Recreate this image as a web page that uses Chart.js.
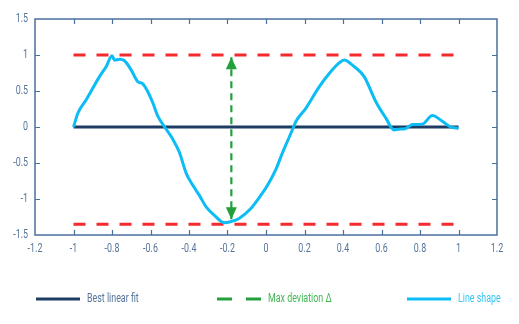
<!DOCTYPE html>
<html>
<head>
<meta charset="utf-8">
<script src="https://cdn.jsdelivr.net/npm/chart.js@4/dist/chart.umd.min.js"></script>
<style>
  html, body { margin: 0; padding: 0; background: #fff; }
  canvas { display: block; }
</style>
</head>
<body>
<canvas id="deviation-chart" width="519" height="324"></canvas>
<script>
const shapeX = [-1, -0.977, -0.934, -0.865, -0.83, -0.8, -0.787, -0.761, -0.735, -0.7, -0.666, -0.64, -0.614,
    -0.587, -0.562, -0.524, -0.484, -0.45, -0.415, -0.38, -0.346, -0.311, -0.259, -0.216, -0.19, -0.14, -0.08,
    -0.035, 0.008, 0.052, 0.086, 0.116, 0.143, 0.156, 0.207, 0.277, 0.337, 0.38, 0.406, 0.449, 0.51, 0.57,
    0.622, 0.665, 0.69, 0.723, 0.76, 0.812, 0.864, 0.916, 0.959, 1];
const shapeY = [0, 0.195, 0.378, 0.7, 0.84, 0.99, 0.93, 0.94, 0.92, 0.79, 0.63, 0.6, 0.49,
    0.33, 0.15, -0.01, -0.17, -0.35, -0.64, -0.81, -0.95, -1.11, -1.25, -1.33, -1.32, -1.27, -1.135,
    -0.98, -0.81, -0.585, -0.355, -0.17, 0, 0.08, 0.26, 0.56, 0.77, 0.89, 0.93, 0.86, 0.7, 0.355,
    0.126, -0.04, -0.03, -0.025, 0.034, 0.04, 0.16, 0.08, 0, -0.02];

const fitX = [-1, 1];
const fitY = [0, 0];

const boundX = [-1, 1];
const upperY = [1, 1];
const lowerY = [-1.35, -1.35];

// vertical arrow between the two bounds
const deviationX = [-0.18, -0.18];
const deviationY = [0.97, -1.28];

const xTicks = { min: -1.2, max: 1.2, step: 0.2 };
const yTicks = { min: -1.5, max: 1.5, step: 0.5 };

const axisColor = '#4a6f9c';
const tickColor = '#55749a';
const fontFamily = 'Roboto, "DejaVu Sans Condensed", sans-serif';
const squeeze = 0.74;   // narrow the lettering horizontally

const toPoints = (xs, ys) => xs.map((x, i) => ({ x: x, y: ys[i] }));
const fmt = v => String(parseFloat(v.toFixed(2)));

function narrowText(ctx, text, x, y) {
    ctx.save();
    ctx.translate(x, y);
    ctx.scale(squeeze, 1);
    ctx.fillText(text, 0, 0);
    ctx.restore();
}

// box around the plot with inward ticks on all four sides
const framePlugin = {
    id: 'frame',
    beforeDatasetsDraw(chart) {
        const { ctx, chartArea: a, scales: { x, y } } = chart;
        const len = 5;
        ctx.save();
        ctx.strokeStyle = axisColor;
        ctx.lineWidth = 1.5;
        ctx.strokeRect(a.left, a.top, a.width, a.height);
        ctx.lineWidth = 1.2;
        ctx.beginPath();
        x.ticks.forEach(t => {
            if (t.value <= x.min + 1e-9 || t.value >= x.max - 1e-9) return;
            const px = Math.round(x.getPixelForValue(t.value)) + 0.5;
            ctx.moveTo(px, a.bottom); ctx.lineTo(px, a.bottom - len);
            ctx.moveTo(px, a.top); ctx.lineTo(px, a.top + len);
        });
        y.ticks.forEach(t => {
            if (t.value <= y.min + 1e-9 || t.value >= y.max - 1e-9) return;
            const py = Math.round(y.getPixelForValue(t.value)) + 0.5;
            ctx.moveTo(a.left, py); ctx.lineTo(a.left + len, py);
            ctx.moveTo(a.right, py); ctx.lineTo(a.right - len, py);
        });
        ctx.stroke();
        ctx.restore();
    }
};

// tick labels in a condensed style
const tickLabelPlugin = {
    id: 'tickLabels',
    afterDraw(chart) {
        const { ctx, chartArea: a, scales: { x, y } } = chart;
        ctx.save();
        ctx.fillStyle = tickColor;
        ctx.font = `12px ${fontFamily}`;
        ctx.textBaseline = 'middle';
        ctx.textAlign = 'center';
        x.ticks.forEach(t => narrowText(ctx, fmt(t.value), x.getPixelForValue(t.value), a.bottom + 14));
        ctx.textAlign = 'right';
        y.ticks.forEach(t => narrowText(ctx, fmt(t.value), a.left - 7, y.getPixelForValue(t.value)));
        ctx.restore();
    }
};

// filled heads at both ends of the deviation arrow
const arrowPlugin = {
    id: 'arrowHeads',
    afterDatasetsDraw(chart) {
        const meta = chart.getDatasetMeta(2);
        if (!meta || meta.data.length < 2) return;
        const { ctx } = chart;
        const top = meta.data[0], bottom = meta.data[1];
        const head = 12, half = 5.5;
        ctx.save();
        ctx.fillStyle = chart.data.datasets[2].borderColor;
        ctx.beginPath();
        ctx.moveTo(top.x, top.y);
        ctx.lineTo(top.x - half, top.y + head);
        ctx.lineTo(top.x + half, top.y + head);
        ctx.closePath();
        ctx.moveTo(bottom.x, bottom.y);
        ctx.lineTo(bottom.x - half, bottom.y - head);
        ctx.lineTo(bottom.x + half, bottom.y - head);
        ctx.closePath();
        ctx.fill();
        ctx.restore();
    }
};

// single legend row under the x axis
const legendRowPlugin = {
    id: 'legendRow',
    afterDraw(chart, args, opts) {
        const { ctx } = chart;
        ctx.save();
        ctx.font = `${opts.fontSize}px ${fontFamily}`;
        ctx.textBaseline = 'middle';
        ctx.textAlign = 'left';
        opts.items.forEach(item => {
            const ds = chart.data.datasets[item.index];
            ctx.strokeStyle = ds.borderColor;
            ctx.lineWidth = 3;
            ctx.setLineDash(item.dash || []);
            ctx.beginPath();
            ctx.moveTo(item.x, opts.y);
            ctx.lineTo(item.x + opts.sample, opts.y);
            ctx.stroke();
            ctx.setLineDash([]);
            ctx.fillStyle = ds.labelColor;
            narrowText(ctx, ds.label, item.x + opts.sample + 7, opts.y);
        });
        ctx.restore();
    }
};

const deviationChart = new Chart(document.getElementById('deviation-chart'), {
    type: 'line',
    data: {
        datasets: [
            {
                label: 'Line shape',
                data: toPoints(shapeX, shapeY),
                borderColor: '#0cbdf5',
                labelColor: '#38c4f7',
                borderWidth: 3,
                pointRadius: 0,
                cubicInterpolationMode: 'monotone',
                fill: false
            },
            {
                label: 'Best linear fit',
                data: toPoints(fitX, fitY),
                borderColor: '#1d3d64',
                labelColor: '#56739a',
                borderWidth: 3,
                pointRadius: 0,
                fill: false
            },
            {
                label: 'Max deviation Δ',
                data: toPoints(deviationX, deviationY),
                borderColor: '#23a03c',
                labelColor: '#42b653',
                borderWidth: 2.2,
                borderDash: [7, 5],
                pointRadius: 0,
                fill: false
            },
            {
                label: 'Upper bound',
                data: toPoints(boundX, upperY),
                borderColor: '#f52a2f',
                borderWidth: 3,
                borderDash: [12, 11],
                pointRadius: 0,
                fill: false
            },
            {
                label: 'Lower bound',
                data: toPoints(boundX, lowerY),
                borderColor: '#f52a2f',
                borderWidth: 3,
                borderDash: [12, 11],
                pointRadius: 0,
                fill: false
            }
        ]
    },
    options: {
        responsive: false,
        animation: false,
        layout: { padding: { top: 19, right: 22, bottom: 65, left: 0 } },
        scales: {
            x: {
                type: 'linear',
                min: xTicks.min,
                max: xTicks.max,
                grid: { display: false },
                border: { display: false },
                ticks: { stepSize: xTicks.step, display: false },
                afterFit: s => { s.height = 24; }
            },
            y: {
                type: 'linear',
                min: yTicks.min,
                max: yTicks.max,
                grid: { display: false },
                border: { display: false },
                ticks: { stepSize: yTicks.step, display: false },
                afterFit: s => { s.width = 35; }
            }
        },
        plugins: {
            legend: { display: false },
            tooltip: { enabled: false },
            legendRow: {
                y: 299,
                sample: 44,
                fontSize: 12,
                items: [
                    { index: 1, x: 36 },
                    { index: 2, x: 217, dash: [15, 14] },
                    { index: 0, x: 407 }
                ]
            }
        }
    },
    plugins: [framePlugin, arrowPlugin, tickLabelPlugin, legendRowPlugin]
});
</script>
</body>
</html>
